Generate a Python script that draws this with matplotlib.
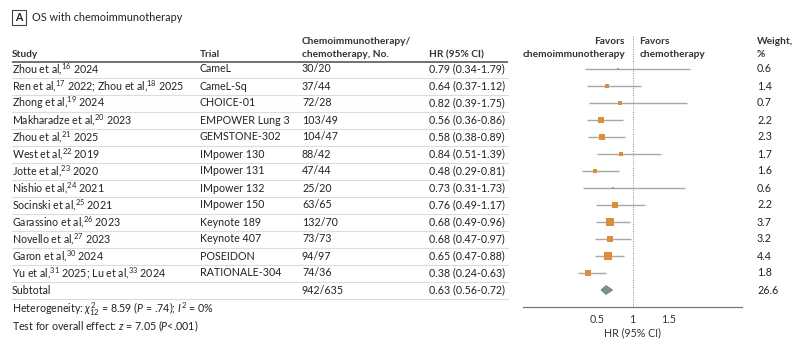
import matplotlib
matplotlib.use("Agg")
import matplotlib.pyplot as plt
from matplotlib.patches import Polygon, Rectangle

FONT = "Lato"
plt.rcParams['font.family'] = [FONT, 'DejaVu Sans']
plt.rcParams['mathtext.fontset'] = 'custom'
plt.rcParams['mathtext.rm'] = FONT
plt.rcParams['mathtext.it'] = FONT + ':italic'
plt.rcParams['mathtext.bf'] = FONT + ':bold'

studies = [
    r"Zhou et al,$^{\mathregular{16}}$ 2024",
    r"Ren et al,$^{\mathregular{17}}$ 2022; Zhou et al,$^{\mathregular{18}}$ 2025",
    r"Zhong et al,$^{\mathregular{19}}$ 2024",
    r"Makharadze et al,$^{\mathregular{20}}$ 2023",
    r"Zhou et al,$^{\mathregular{21}}$ 2025",
    r"West et al,$^{\mathregular{22}}$ 2019",
    r"Jotte et al,$^{\mathregular{23}}$ 2020",
    r"Nishio et al,$^{\mathregular{24}}$ 2021",
    r"Socinski et al,$^{\mathregular{25}}$ 2021",
    r"Garassino et al,$^{\mathregular{26}}$ 2023",
    r"Novello et al,$^{\mathregular{27}}$ 2023",
    r"Garon et al,$^{\mathregular{30}}$ 2024",
    r"Yu et al,$^{\mathregular{31}}$ 2025; Lu et al,$^{\mathregular{33}}$ 2024",
]
trials = ["CameL", "CameL-Sq", "CHOICE-01", "EMPOWER Lung 3", "GEMSTONE-302",
          "IMpower 130", "IMpower 131", "IMpower 132", "IMpower 150",
          "Keynote 189", "Keynote 407", "POSEIDON", "RATIONALE-304"]
counts = ["30/20", "37/44", "72/28", "103/49", "104/47", "88/42", "47/44",
          "25/20", "63/65", "132/70", "73/73", "94/97", "74/36"]
hr = [0.79, 0.64, 0.82, 0.56, 0.58, 0.84, 0.48, 0.73, 0.76, 0.68, 0.68, 0.65, 0.38]
lo = [0.34, 0.37, 0.39, 0.36, 0.38, 0.51, 0.29, 0.31, 0.49, 0.49, 0.47, 0.47, 0.24]
hi = [1.79, 1.12, 1.75, 0.86, 0.89, 1.39, 0.81, 1.73, 1.17, 0.96, 0.97, 0.88, 0.63]
weights = [0.6, 1.4, 0.7, 2.2, 2.3, 1.7, 1.6, 0.6, 2.2, 3.7, 3.2, 4.4, 1.8]

sub_label = "Subtotal"
sub_count = "942/635"
sub_hr, sub_lo, sub_hi = 0.63, 0.56, 0.72
sub_weight = 26.6

xticks = [0.5, 1, 1.5]
xticklabels = ["0.5", "1", "1.5"]

W, H = 800, 353
fig = plt.figure(figsize=(W / 100, H / 100), dpi=100)

tab = fig.add_axes([0, 0, 1, 1])
tab.set_xlim(0, W)
tab.set_ylim(H, 0)
tab.axis('off')

TXT = '#222222'
FS = 7.7
HFS = 7.3
ROW0, DY = 69.0, 17.0
n = len(studies)

def rowy(i):
    return ROW0 + DY * i

# title block
tab.add_patch(Rectangle((12, 10), 14, 15, fill=False, edgecolor='#444444', lw=0.8))
tab.text(19, 17.7, "A", ha='center', va='center', fontsize=7.6, fontweight='bold', color=TXT)
tab.text(32, 17.7, "OS with chemoimmunotherapy", ha='left', va='center', fontsize=7.8, color=TXT)

# headers
hb = dict(fontsize=HFS, fontweight='bold', color='#333333', va='center')
tab.text(12, 54.5, "Study", ha='left', **hb)
tab.text(200, 54.5, "Trial", ha='left', **hb)
tab.text(302, 41.3, "Chemoimmunotherapy/", ha='left', **hb)
tab.text(302, 54.5, "chemotherapy, No.", ha='left', **hb)
tab.text(429, 54.5, "HR (95% CI)", ha='left', **hb)
tab.text(625, 41.3, "Favors", ha='right', **hb)
tab.text(625, 54.5, "chemoimmunotherapy", ha='right', **hb)
tab.text(639.5, 41.3, "Favors", ha='left', **hb)
tab.text(639.5, 54.5, "chemotherapy", ha='left', **hb)
tab.text(757, 41.3, "Weight,", ha='left', **hb)
tab.text(757, 54.5, "%", ha='left', **hb)
tab.plot([12, 508], [61.5, 61.5], color='#666666', lw=1.3, solid_capstyle='butt')

for i in range(n):
    y = rowy(i)
    tab.text(12, y, studies[i], ha='left', va='center', fontsize=FS, color=TXT)
    tab.text(200, y, trials[i], ha='left', va='center', fontsize=FS, color=TXT)
    tab.text(302, y, counts[i], ha='left', va='center', fontsize=FS, color=TXT)
    tab.text(429, y, f"{hr[i]:.2f} ({lo[i]:.2f}-{hi[i]:.2f})", ha='left', va='center', fontsize=FS, color=TXT)
    tab.text(757, y, f"{weights[i]:.1f}", ha='left', va='center', fontsize=FS, color=TXT)
    tab.plot([12, 508], [y + 8.5, y + 8.5], color='#dcdcdc', lw=0.8)

ys = rowy(n)
tab.text(12, ys, sub_label, ha='left', va='center', fontsize=FS, color=TXT)
tab.text(302, ys, sub_count, ha='left', va='center', fontsize=FS, color=TXT)
tab.text(429, ys, f"{sub_hr:.2f} ({sub_lo:.2f}-{sub_hi:.2f})", ha='left', va='center', fontsize=FS, color=TXT)
tab.text(757, ys, f"{sub_weight:.1f}", ha='left', va='center', fontsize=FS, color=TXT)
tab.plot([12, 508], [ys + 8.5, ys + 8.5], color='#dcdcdc', lw=0.8)

tab.text(12, 309, r"Heterogeneity: $\chi^{2}_{12}$ = 8.59 ($\mathit{P}$ = .74); $\mathit{I}^{2}$ = 0%",
         ha='left', va='center', fontsize=FS, color=TXT)
tab.text(12, 326, r"Test for overall effect: $\mathit{z}$ = 7.05 ($\mathit{P}$<.001)",
         ha='left', va='center', fontsize=FS, color=TXT)

# forest axes
left_px, right_px = 522.7, 742.0
top_px, bot_px = ROW0 + DY * (-2), ROW0 + DY * 14
ax = fig.add_axes([left_px / W, 1 - bot_px / H, (right_px - left_px) / W, (bot_px - top_px) / H])
ax.patch.set_alpha(0)
ax.set_xlim(1 - (632.7 - left_px) / 72.0, 1 + (right_px - 632.7) / 72.0)
ax.set_ylim(14, -2)
for s in ['top', 'right', 'left']:
    ax.spines[s].set_visible(False)
ax.spines['bottom'].set_color('#777777')
ax.spines['bottom'].set_linewidth(0.9)
ax.set_yticks([])
ax.set_xticks(xticks)
ax.set_xticklabels(xticklabels)
ax.tick_params(axis='x', length=0, pad=5, labelsize=FS, labelcolor='#333333')
ax.set_xlabel("HR (95% CI)", fontsize=FS, color='#333333', labelpad=2)

ax.axvline(1, color='#888888', lw=0.7, ls=(0, (1, 1.5)))

ORANGE = '#E08C3E'
for i in range(n):
    ax.plot([lo[i], hi[i]], [i, i], color='#a8a8a8', lw=1.0, solid_capstyle='butt', zorder=2)
    ms = 2.75 * weights[i] ** 0.5
    ax.plot(hr[i], i, marker='s', ms=ms, color=ORANGE, mec=ORANGE, mew=0, zorder=3)

dh = 0.26
ax.add_patch(Polygon([(sub_lo, n), (sub_hr, n - dh), (sub_hi, n), (sub_hr, n + dh)],
                     closed=True, facecolor='#7d9094', edgecolor='#6a7d82', lw=0.6, zorder=3))

fig.savefig("out.png", dpi=100)
